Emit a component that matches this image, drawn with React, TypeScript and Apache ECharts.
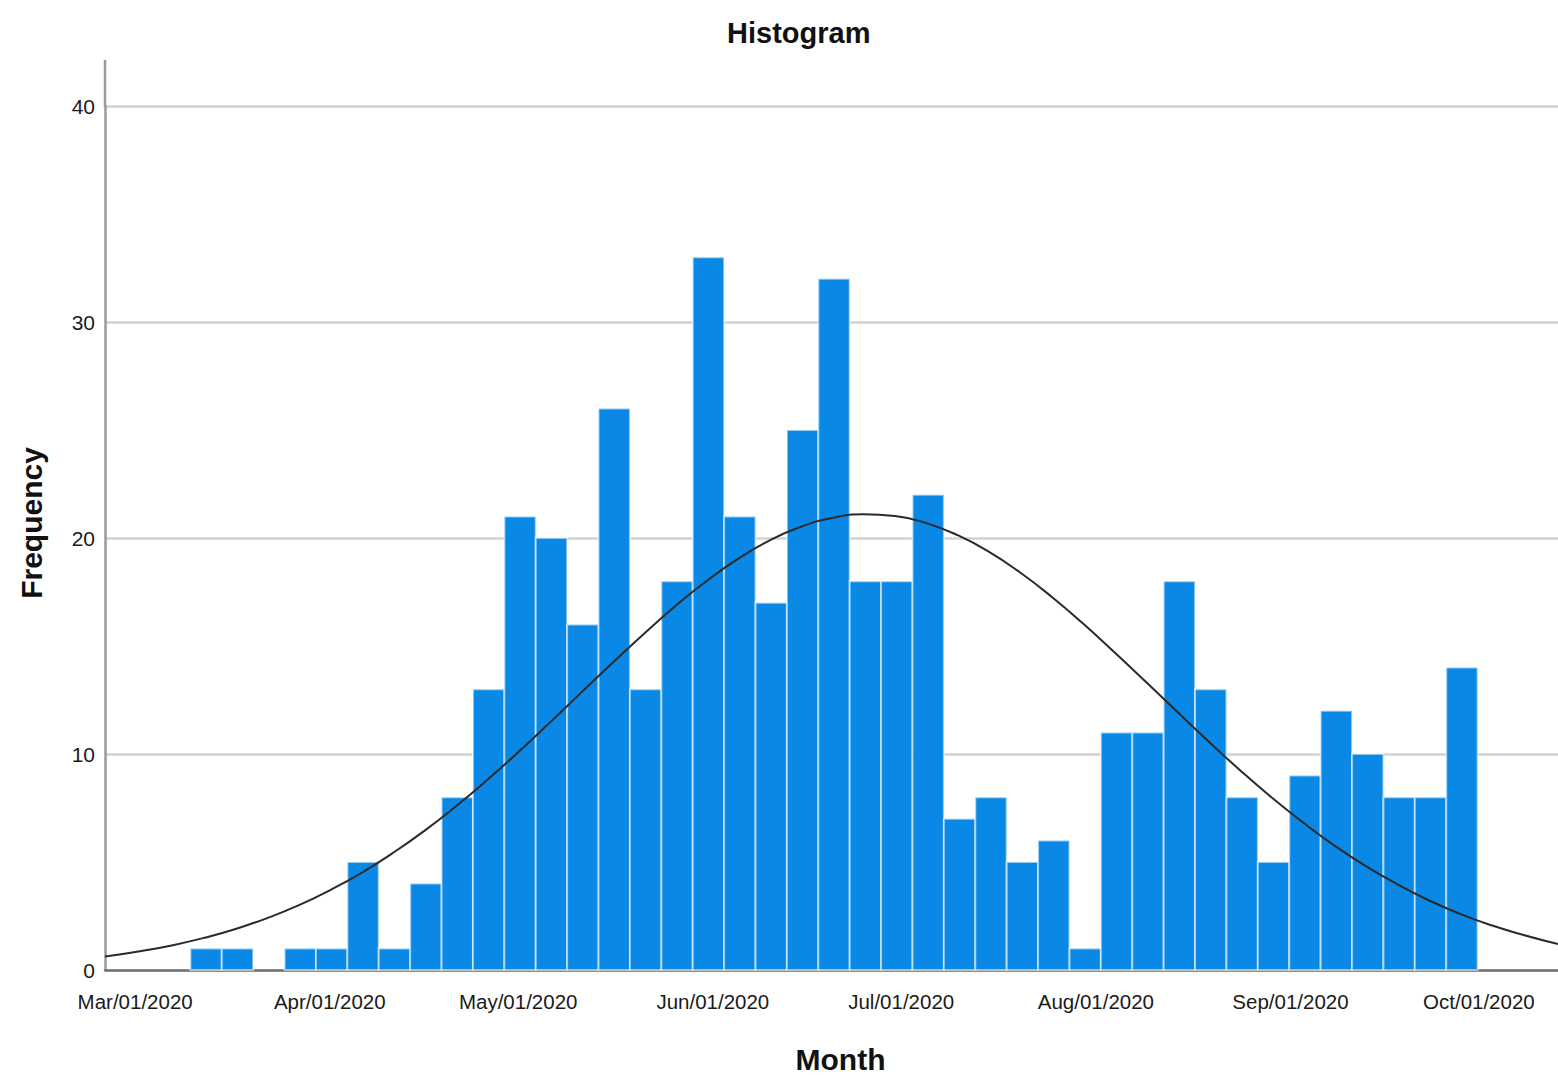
import React, { useEffect, useRef } from "react";
import * as echarts from "echarts";

// Histogram bins: 5-day bins starting 8.8 days after Mar/01/2020
const binStartDay = 8.8;
const binWidthDays = 5;
const counts = [
  1, 1, 0, 1, 1, 5, 1, 4, 8, 13, 21, 20, 16, 26, 13, 18, 33, 21, 17, 25, 32,
  18, 18, 22, 7, 8, 5, 6, 1, 11, 11, 18, 13, 8, 5, 9, 12, 10, 8, 8, 14,
];

// Normal curve points: day offset from Mar/01/2020 -> frequency
const curveDays = [
  -4.8, 1, 6, 11, 16, 21, 26, 31, 36, 41, 46, 51, 56, 61, 66, 71, 76, 81, 86,
  91, 96, 101, 106, 111, 116, 121, 126, 131, 136, 141, 146, 151, 156, 161, 166,
  171, 176, 181, 186, 191, 196, 201, 206, 211, 216, 221, 226.6,
];
const curveValues = [
  0.62, 0.88, 1.15, 1.49, 1.9, 2.4, 2.99, 3.69, 4.49, 5.41, 6.43, 7.56, 8.78,
  10.08, 11.44, 12.83, 14.21, 15.56, 16.84, 18.01, 19.03, 19.88, 20.52, 20.93,
  21.1, 21.02, 20.69, 20.13, 19.36, 18.39, 17.27, 16.03, 14.7, 13.33, 11.94,
  10.57, 9.24, 7.99, 6.83, 5.76, 4.81, 3.97, 3.23, 2.6, 2.07, 1.63, 1.2,
];

// X tick labels at month starts (day offsets from Mar/01/2020)
const monthDays = [0, 31, 61, 92, 122, 153, 184, 214];
const monthLabels = [
  "Mar/01/2020",
  "Apr/01/2020",
  "May/01/2020",
  "Jun/01/2020",
  "Jul/01/2020",
  "Aug/01/2020",
  "Sep/01/2020",
  "Oct/01/2020",
];
const yTicks = [0, 10, 20, 30, 40];

const tickFont = "'Liberation Sans', Arial, sans-serif";
const titleFont = "'Liberation Sans', Arial, sans-serif";

export default function App() {
  const ref = useRef<HTMLDivElement>(null);

  useEffect(() => {
    if (!ref.current) return;
    const chart = echarts.init(ref.current, undefined, { renderer: "svg" });

    const barData = counts.map((c, i) => [
      binStartDay + i * binWidthDays,
      binStartDay + (i + 1) * binWidthDays,
      c,
    ]);
    const curveData = curveDays.map((d, i) => [d, curveValues[i]]);

    chart.setOption({
      animation: false,
      backgroundColor: "#ffffff",
      title: {
        text: "Histogram",
        left: 722,
        top: 13,
        textStyle: {
          fontFamily: titleFont,
          fontSize: 29,
          fontWeight: "bold",
          color: "#111",
        },
      },
      grid: { left: 105, right: 0, top: 106, bottom: 112, containLabel: false },
      xAxis: {
        type: "value",
        min: -4.8,
        max: 226.6,
        name: "Month",
        nameLocation: "middle",
        nameGap: 74,
        nameTextStyle: {
          fontFamily: titleFont,
          fontSize: 30,
          fontWeight: "bold",
          color: "#111",
          padding: [0, 0, 0, 18],
        },
        axisLine: { show: true, onZero: false, lineStyle: { color: "#707070", width: 2.5 } },
        axisTick: { show: false },
        splitLine: { show: false },
        axisLabel: {
          customValues: monthDays,
          formatter: (v: number) => {
            const idx = monthDays.indexOf(Math.round(v));
            return idx >= 0 ? monthLabels[idx] : "";
          },
          fontFamily: tickFont,
          fontSize: 20.5,
          color: "#1a1a1a",
          margin: 21,
        },
      },
      yAxis: {
        type: "value",
        min: 0,
        max: 40,
        interval: 10,
        axisLine: { show: true, onZero: false, lineStyle: { color: "#9a9a9a", width: 2.5 } },
        axisTick: { show: false },
        splitLine: { show: true, lineStyle: { color: "#d2d2d2", width: 2.5 } },
        axisLabel: {
          customValues: yTicks,
          fontFamily: tickFont,
          fontSize: 21,
          color: "#1a1a1a",
          margin: 10,
        },
      },
      graphic: [
        {
          type: "line",
          shape: { x1: 105, y1: 60, x2: 105, y2: 107 },
          style: { stroke: "#9a9a9a", lineWidth: 2.5 },
        },
        {
          type: "text",
          x: 31,
          y: 523,
          rotation: Math.PI / 2,
          style: {
            text: "Frequency",
            fontFamily: titleFont,
            fontSize: 30,
            fontWeight: "bold",
            fill: "#111",
            align: "center",
            verticalAlign: "middle",
          },
        },
      ],
      series: [
        {
          type: "custom",
          data: barData,
          encode: { x: [0, 1], y: 2 },
          renderItem: (params: any, api: any) => {
            const start = api.value(0);
            const end = api.value(1);
            const val = api.value(2);
            if (!val) return null;
            const p0 = api.coord([start, 0]);
            const p1 = api.coord([end, val]);
            return {
              type: "rect",
              shape: {
                x: p0[0],
                y: p1[1],
                width: p1[0] - p0[0],
                height: p0[1] - p1[1],
              },
              style: {
                fill: "#0a88e6",
                stroke: "rgba(255,255,255,0.55)",
                lineWidth: 2,
              },
            };
          },
          z: 2,
        },
        {
          type: "line",
          data: curveData,
          smooth: true,
          symbol: "none",
          clip: true,
          lineStyle: { color: "#2a2a2a", width: 2 },
          z: 3,
        },
      ],
    });

    return () => chart.dispose();
  }, []);

  return (
    <div
      ref={ref}
      style={{
        position: "absolute",
        left: 0,
        top: 0,
        width: 1558,
        height: 1082,
        background: "#fff",
      }}
    />
  );
}
